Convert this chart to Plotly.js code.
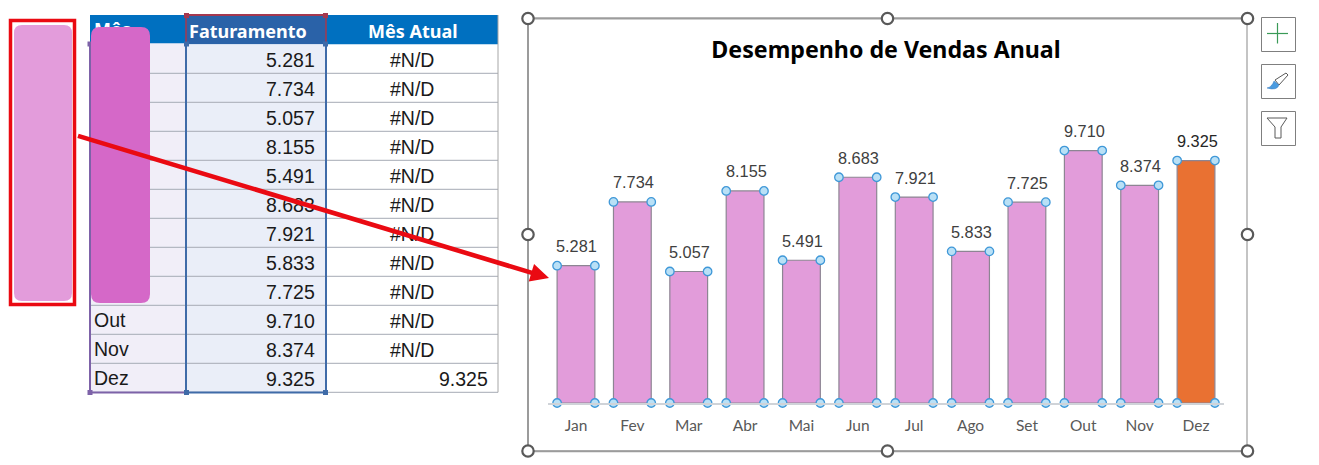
<!DOCTYPE html>
<html><head><meta charset="utf-8">
<script src="https://cdn.plot.ly/plotly-3.0.1.min.js"></script>
<style>html,body{margin:0;padding:0;background:#fff;overflow:hidden}#c{width:1319px;height:465px}</style>
</head><body><div id="c"></div>
<script>
const months = ['Jan','Fev','Mar','Abr','Mai','Jun','Jul','Ago','Set','Out','Nov','Dez'];
const sales = [5281,7734,5057,8155,5491,8683,7921,5833,7725,9710,8374,9325];
const currentMonth = [null,null,null,null,null,null,null,null,null,null,null,9325];
const tableHeaders = ['Mês','Faturamento','Mês Atual'];
const chartTitle = 'Desempenho de Vendas Anual';

const W=1319,H=465;
const X=p=>p/W, Y=p=>1-p/H;
const fmt=v=>String(v).replace(/(\d)(\d{3})$/,'$1.$2');
const BARW=0.67;
const SANS='"Liberation Sans", Arial, sans-serif', HEAD='"Noto Sans", sans-serif';
const shapes=[], ann=[];
function rect(x0,y0,x1,y1,fill,lc,lw,extra){shapes.push(Object.assign({type:'rect',xref:'paper',yref:'paper',x0:X(x0),x1:X(x1),y0:Y(y0),y1:Y(y1),fillcolor:fill,line:{color:lc||'rgba(0,0,0,0)',width:lw||0},layer:'above'},extra||{}));}
function seg(x0,y0,x1,y1,c,w){shapes.push({type:'line',xref:'paper',yref:'paper',x0:X(x0),x1:X(x1),y0:Y(y0),y1:Y(y1),line:{color:c,width:w},layer:'above'});}
function circle(cx,cy,r,fill,lc,lw){shapes.push({type:'circle',xref:'paper',yref:'paper',x0:X(cx-r),x1:X(cx+r),y0:Y(cy-r),y1:Y(cy+r),fillcolor:fill,line:{color:lc,width:lw},layer:'above'});}
function poly(pts,fill,lc,lw){const d=pts.map(p=>typeof p==='string'?p:(X(p[0])+','+Y(p[1]))).join(' ').replace(/([MLQZ]) /g,'$1');shapes.push({type:'path',xref:'paper',yref:'paper',path:d,fillcolor:fill,line:{color:lc||'rgba(0,0,0,0)',width:lw||0},layer:'above'});}
function rrect(x0,y0,x1,y1,r,fill){poly(['M',[x0+r,y0],'L',[x1-r,y0],'Q',[x1,y0],[x1,y0+r],'L',[x1,y1-r],'Q',[x1,y1],[x1-r,y1],'L',[x0+r,y1],'Q',[x0,y1],[x0,y1-r],'L',[x0,y0+r],'Q',[x0,y0],[x0+r,y0],'Z'],fill);}
function txt(x,y,t,anchor,size,color,fam,bold){ann.push({xref:'paper',yref:'paper',x:X(x),y:Y(y),text:bold?'<b>'+t+'</b>':t,showarrow:false,xanchor:anchor,yanchor:'middle',font:{family:fam||SANS,size:size,color:color||'#1a1a1a'},borderpad:0,borderwidth:0});}

// table
const cols=[90,186,326,498], tblTop=15, hdr=44.3, rowH=29;
rect(cols[0],tblTop,cols[3],hdr,'#0070c0');
rect(cols[1],tblTop,cols[2],hdr,'#2a62a8');
shapes.push({type:'rect',xref:'paper',yref:'paper',x0:X(cols[0]),x1:X(cols[1]),y0:Y(hdr),y1:Y(tblTop),fillcolor:'#0070c0',line:{width:0},layer:'above',label:{text:'<b>'+tableHeaders[0]+'</b>',textposition:'middle left',padding:1,font:{family:HEAD,size:18,color:'#ffffff'}}});
months.forEach((m,i)=>{
  const y0=hdr+i*rowH,y1=y0+rowH;
  rect(cols[1],y0,cols[2],y1,'#eaeef8');
  shapes.push({type:'rect',xref:'paper',yref:'paper',x0:X(cols[0]),x1:X(cols[1]),y0:Y(y1-1),y1:Y(y0-1),fillcolor:'#f1eef8',line:{width:0},layer:'above',label:{text:m,textposition:'middle left',padding:1,font:{family:SANS,size:19.5,color:'#1a1a1a'}}});
  txt(315,y0+15.7,fmt(sales[i]),'right',19.5);
  if(currentMonth[i]===null) txt(412,y0+15.7,'#N/D','center',19.5);
  else txt(488,y0+15.7,fmt(currentMonth[i]),'right',19.5);
});
months.forEach((m,i)=>{const y1=hdr+(i+1)*rowH; rect(cols[0],y1-1,cols[1],y1+0.5,'#f1eef8'); seg(cols[0],y1,cols[3],y1,'#a6abb5',1);});
seg(cols[3],tblTop,cols[3],hdr+12*rowH,'#a6a6a6',1);
txt(248.5,31,tableHeaders[1],'center',18,'#ffffff',HEAD,true);
txt(413,31,tableHeaders[2],'center',18,'#ffffff',HEAD,true);
seg(90,44,90,392.5,'#7d62a8',2); seg(90,392.5,186,392.5,'#7d62a8',2);
seg(186,44,186,392.5,'#3f6ba8',2); seg(326,44,326,392.5,'#3f6ba8',2); seg(186,392.5,326,392.5,'#3f6ba8',2);
seg(186,15,326,15,'#a5384f',2); seg(186,15,186,44,'#a5384f',1.5); seg(326,15,326,44,'#a5384f',1.5);
[[186.5,15.5,'#a5384f'],[325.5,15.5,'#a5384f'],[186.5,44,'#3f6ba8'],[325.5,44,'#3f6ba8'],[186.5,392.5,'#3f6ba8'],[325.5,392.5,'#3f6ba8'],[90,392.5,'#7d62a8'],[90,44,'#7d62a8']].forEach(h=>rect(h[0]-2.5,h[1]-2.5,h[0]+2.5,h[1]+2.5,h[2]));

// pink swatches
rrect(91,27,150,303,9,'#d568c8');
rect(10.5,20.5,74.5,304.5,'rgba(0,0,0,0)','#ea0a12',3.5);
rrect(14,25,72,301,8,'#e39cdb');

// chart frame
seg(528,19,1247,19,'#cfcfcf',2); seg(528,451.5,1247,451.5,'#cfcfcf',2);
seg(1247,18,1247,451,'#c4c4c4',2); seg(528,18,1247,18,'#6a6a6a',1); seg(528,451,1247,451,'#6a6a6a',1); seg(528,18,528,451,'#7a7a7a',1.5); 
[[528,18.5],[887.5,18.5],[1247.5,18.5],[528,234.5],[1247.5,234.5],[528,451],[887.5,451],[1247.5,451]].forEach(c=>circle(c[0],c[1],5.7,'#ffffff','#595959',2.2));

// side buttons
[17.5,64.5,111.5].forEach(y=>rect(1261.5,y,1295.5,y+34,'#ffffff','#7f7f7f',1));
seg(1267,33.5,1288,33.5,'#3a9a57',1.2); seg(1277.5,23,1277.5,43.5,'#3a9a57',1.2);
poly(['M',[1275,80],'L',[1286,73],'L',[1288,75],'L',[1279,85],'Z'],'#ffffff','#595959',1);
poly(['M',[1267,88],'Q',[1272,87],[1274,81],'L',[1279,85],'Q',[1277,91],[1267,88],'Z'],'#4a9be0','#3f7fc0',0.5);
poly(['M',[1267,118],'L',[1287,118],'L',[1281,127],'L',[1281,138],'L',[1275,138],'L',[1275,127],'Z'],'#ffffff','#595959',1);

// bar labels
months.forEach((m,i)=>ann.push({xref:'x',yref:'y',x:i,y:sales[i],text:fmt(sales[i]),showarrow:false,xanchor:'center',yanchor:'middle',yshift:19.5,xshift:1,font:{family:SANS,size:16.3,color:currentMonth[i]===null?'#404040':'#262626'}}));
// arrow last, so it sits over the table text
ann.push({xref:'paper',yref:'paper',x:X(549),y:Y(278),text:' ',showarrow:true,axref:'pixel',ayref:'pixel',ax:75-549,ay:135-278,arrowhead:2,arrowsize:0.8,arrowwidth:4.6,arrowcolor:'#ea0a12',standoff:0,startstandoff:0});

const idx=months.map((_,i)=>i);
const traces=[
 {type:'bar',x:idx,y:sales,width:BARW,marker:{color:idx.map(i=>currentMonth[i]===null?'#e29cda':'#e97132'),line:{color:'#8d8593',width:1.2}},hoverinfo:'skip',showlegend:false},
 {type:'scatter',mode:'markers',
  x:idx.flatMap(i=>[i-BARW/2,i+BARW/2,i-BARW/2,i+BARW/2]),
  y:idx.flatMap(i=>[sales[i],sales[i],0,0]),
  marker:{size:8.5,color:'#b9e0f6',line:{color:'#3f98d8',width:1.3}},cliponaxis:false,hoverinfo:'skip',showlegend:false}
];
const layout={
 width:W,height:H,margin:{l:0,r:0,t:0,b:0,pad:0},paper_bgcolor:'#ffffff',plot_bgcolor:'rgba(0,0,0,0)',showlegend:false,
 bargap:0.33,
 title:{text:'<b>'+chartTitle+'</b>',x:886/W,xanchor:'center',y:1-49.5/H,yanchor:'middle',font:{family:HEAD,size:23.2,color:'#000000'}},
 xaxis:{domain:[547.8/W,1224.2/W],range:[-0.5,11.5],tickmode:'array',tickvals:idx,ticktext:months,ticks:'',showgrid:false,zeroline:false,showline:true,linecolor:'#cfd3d8',linewidth:1.5,tickfont:{family:'Lato, sans-serif',size:15.5,color:'#595959'},ticklabelstandoff:8,fixedrange:true},
 yaxis:{domain:[(H-403)/H,(H-91)/H],range:[0,12000],visible:false,fixedrange:true},
 shapes:shapes,annotations:ann
};
Plotly.newPlot('c',traces,layout,{staticPlot:true,displayModeBar:false});
</script></body></html>
